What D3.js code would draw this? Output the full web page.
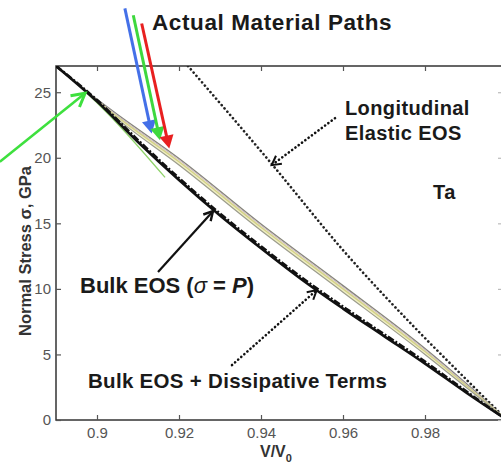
<!DOCTYPE html>
<html><head><meta charset="utf-8">
<script src="https://cdn.jsdelivr.net/npm/d3@7"></script>
<style>body{margin:0;background:#fff}svg{display:block}</style>
</head><body>
<script>
// ---- data ----
const xTicks = [0.9, 0.92, 0.94, 0.96, 0.98];
const yTicks = [0, 5, 10, 15, 20, 25];
const xTickLabels = ["0.9", "0.92", "0.94", "0.96", "0.98"];
const yTickLabels = ["0", "5", "10", "15", "20", "25"];

const vBulk = [0.89, 0.90, 0.91, 0.92, 0.93, 0.94, 0.95, 0.96, 0.97, 0.98, 0.99, 1.00];
const sigmaBulk = [27.0, 24.3, 21.2, 18.3, 15.6, 13.1, 10.7, 8.5, 6.4, 4.3, 2.1, 0];
const sigmaDissip = [27.0, 24.4, 21.35, 18.45, 15.75, 13.25, 10.85, 8.65, 6.55, 4.45, 2.2, 0];

const vLong = [0.9222, 0.9427, 0.96, 0.9788, 0.9902, 1.0];
const sigmaLong = [27.0, 19.5, 12.96, 6.63, 3.05, 0];

const vPath = [0.8975, 0.905, 0.92, 0.94, 0.96, 0.98, 0.99, 1.0];
const pathUpper = [25.05, 23.3, 19.95, 14.95, 10.25, 5.45, 2.8, 0];
const pathPurple = [25.03, 23.22, 19.85, 14.85, 10.15, 5.36, 2.74, 0];
const pathOlive = [25.0, 23.12, 19.7, 14.7, 10.0, 5.22, 2.65, 0];
const pathLower = [24.95, 22.95, 19.45, 14.45, 9.75, 5.0, 2.5, 0];

const vGreen = [0.8975, 0.905, 0.9166];
const sigmaGreen = [24.95, 22.6, 18.5];

// ---- layout ----
const W = 501, H = 464;
const svg = d3.select("body").append("svg").attr("width", W).attr("height", H);
const x = d3.scaleLinear().domain([0.89, 1.0]).range([56, 507]);
const y = d3.scaleLinear().domain([0, 27]).range([420, 66]);

const font = "'Liberation Sans', Arial, Helvetica, sans-serif";

// frame
svg.append("rect").attr("x", x(0.89)).attr("y", y(27)).attr("width", x(1.0) - x(0.89)).attr("height", y(0) - y(27))
  .attr("fill", "none").attr("stroke", "#333").attr("stroke-width", 1.5);

// axes with inward ticks
const gx = svg.append("g").attr("transform", `translate(0,${y(0)})`)
  .call(d3.axisBottom(x).tickValues(xTicks).tickFormat((d, i) => xTickLabels[i]).tickSizeInner(-5).tickSizeOuter(0).tickPadding(7));
const gxt = svg.append("g").attr("transform", `translate(0,${y(27)})`)
  .call(d3.axisTop(x).tickValues(xTicks).tickFormat("").tickSizeInner(-5).tickSizeOuter(0));
const gy = svg.append("g").attr("transform", `translate(${x(0.89)},0)`)
  .call(d3.axisLeft(y).tickValues(yTicks).tickFormat((d, i) => yTickLabels[i]).tickSizeInner(-5).tickSizeOuter(0).tickPadding(5));
const gyr = svg.append("g").attr("transform", `translate(${x(1.0)},0)`)
  .call(d3.axisRight(y).tickValues(yTicks).tickFormat("").tickSizeInner(-9).tickSizeOuter(0));
[gx, gxt, gy, gyr].forEach(g => {
  g.select(".domain").remove();
  g.selectAll(".tick line").attr("stroke", "#555").attr("stroke-width", 1.2);
  g.selectAll("text").attr("font-family", font).attr("font-size", 15).attr("fill", "#555");
});
gyr.selectAll(".tick line").attr("stroke", "#bbb");

// clip for curves
svg.append("clipPath").attr("id", "clip").append("rect")
  .attr("x", x(0.89)).attr("y", y(27)).attr("width", x(1.0) - x(0.89)).attr("height", y(0) - y(27));
const plot = svg.append("g").attr("clip-path", "url(#clip)");

const line = (vs, ss) => d3.line().curve(d3.curveMonotoneX).x((d, i) => x(vs[i])).y((d, i) => y(ss[i]))(ss);

// longitudinal elastic EOS (dotted)
plot.append("path").attr("d", line(vLong, sigmaLong)).attr("fill", "none")
  .attr("stroke", "#222").attr("stroke-width", 2.6).attr("stroke-dasharray", "0.1,4.2").attr("stroke-linecap", "round");

// material paths band
const area = d3.area().curve(d3.curveMonotoneX).x((d, i) => x(vPath[i])).y0((d, i) => y(pathLower[i])).y1((d, i) => y(pathUpper[i]));
plot.append("path").attr("d", area(pathUpper)).attr("fill", "#f1f0c4").attr("stroke", "none");
plot.append("path").attr("d", line(vPath, pathUpper)).attr("fill", "none").attr("stroke", "#85857a").attr("stroke-width", 1.3);
plot.append("path").attr("d", line(vPath, pathPurple)).attr("fill", "none").attr("stroke", "#c4b0cc").attr("stroke-width", 1);
plot.append("path").attr("d", line(vPath, pathOlive)).attr("fill", "none").attr("stroke", "#d2d08a").attr("stroke-width", 1.4);
plot.append("path").attr("d", line(vPath, pathLower)).attr("fill", "none").attr("stroke", "#9c9c8c").attr("stroke-width", 1.2);

// short green path
plot.append("path").attr("d", line(vGreen, sigmaGreen)).attr("fill", "none").attr("stroke", "#8fd36a").attr("stroke-width", 1.3);

// bulk EOS and dissipative
plot.append("path").attr("d", line(vBulk, sigmaBulk)).attr("fill", "none").attr("stroke", "#111").attr("stroke-width", 2.6);
plot.append("path").attr("d", line(vBulk, sigmaDissip)).attr("fill", "none").attr("stroke", "#111").attr("stroke-width", 2.6)
  .attr("stroke-dasharray", "7,2,2,2");

// ---- arrows ----
function arrow(v1, s1, v2, s2, o) {
  const x1 = x(v1), y1 = y(s1), x2 = x(v2), y2 = y(s2);
  const a = Math.atan2(y2 - y1, x2 - x1);
  const L = o.size, Wd = o.size * 0.55;
  const bx = x2 - L * Math.cos(a), by = y2 - L * Math.sin(a);
  const px = -Math.sin(a) * Wd, py = Math.cos(a) * Wd;
  const g = svg.append("g");
  const endX = o.filled ? bx + L * 0.3 * Math.cos(a) : x2, endY = o.filled ? by + L * 0.3 * Math.sin(a) : y2;
  g.append("line").attr("x1", x1).attr("y1", y1).attr("x2", endX).attr("y2", endY)
    .attr("stroke", o.color).attr("stroke-width", o.width).attr("stroke-dasharray", o.dash || null)
    .attr("stroke-linecap", o.dash ? "round" : null);
  if (o.filled) {
    g.append("path").attr("d", `M${x2},${y2}L${bx + px},${by + py}L${bx - px},${by - py}Z`).attr("fill", o.color);
  } else {
    g.append("path").attr("d", `M${bx + px},${by + py}L${x2},${y2}L${bx - px},${by - py}`)
      .attr("fill", "none").attr("stroke", o.color).attr("stroke-width", o.hw || o.width).attr("stroke-linejoin", "miter");
  }
}
// big green arrow
arrow(0.8763, 19.69, 0.8971, 24.92, { color: "#3ee03e", width: 2.6, size: 13, hw: 3 });
// colored material-path arrows
arrow(0.9068, 31.4, 0.91334, 21.85, { color: "#4470e8", width: 3, size: 13, filled: true });
arrow(0.90885, 30.87, 0.91537, 21.34, { color: "#3ed83e", width: 3, size: 13, filled: true });
arrow(0.9109, 30.24, 0.91763, 20.71, { color: "#e82020", width: 3, size: 13, filled: true });
// bulk EOS arrow
arrow(0.91488, 11.28, 0.92829, 15.93, { color: "#111", width: 2.2, size: 9, hw: 2.4 });
// dissipative arrow (dotted)
arrow(0.93293, 4.19, 0.95359, 9.91, { color: "#111", width: 2.6, size: 9, dash: "0.1,4", hw: 2 });
// longitudinal arrow (dotted)
arrow(0.95805, 23.02, 0.94261, 19.44, { color: "#111", width: 2.6, size: 9, dash: "0.1,4", hw: 2 });

// ---- text ----
const txt = (tx, ty, s, size, ls) => svg.append("text").attr("x", tx).attr("y", ty).attr("font-family", font)
    .attr("font-weight", "bold").attr("font-size", size).attr("letter-spacing", ls || 0).attr("fill", "#1a1a1a").text(s);
txt(152, 30, "Actual Material Paths", 22.5, 0.6);
txt(345, 115, "Longitudinal", 20, 0.4);
txt(345, 140, "Elastic EOS", 20, 0.4);
txt(433, 199, "Ta", 20, 0.4);
const be = svg.append("text").attr("x", 80).attr("y", 293).attr("font-family", font)
  .attr("font-weight", "bold").attr("font-size", 22).attr("fill", "#1a1a1a");
be.append("tspan").text("Bulk EOS (");
be.append("tspan").attr("font-style", "italic").attr("font-weight", "normal").text("σ");
be.append("tspan").text(" = ");
be.append("tspan").attr("font-style", "italic").text("P");
be.append("tspan").text(")");
txt(88, 388, "Bulk EOS + Dissipative Terms", 20.5, 0.3);

// axis labels
svg.append("text").attr("transform", `translate(31,251) rotate(-90)`).attr("text-anchor", "middle")
  .attr("font-family", font).attr("font-weight", "bold").attr("font-size", 16.5).attr("fill", "#333")
  .text("Normal Stress σ, GPa");
const xl = svg.append("text").attr("x", 260).attr("y", 457)
  .attr("font-family", font).attr("font-weight", "bold").attr("font-size", 16).attr("fill", "#333");
xl.append("tspan").text("V/V");
xl.append("tspan").attr("dy", 5).attr("font-size", 11).text("0");
</script>
</body></html>
